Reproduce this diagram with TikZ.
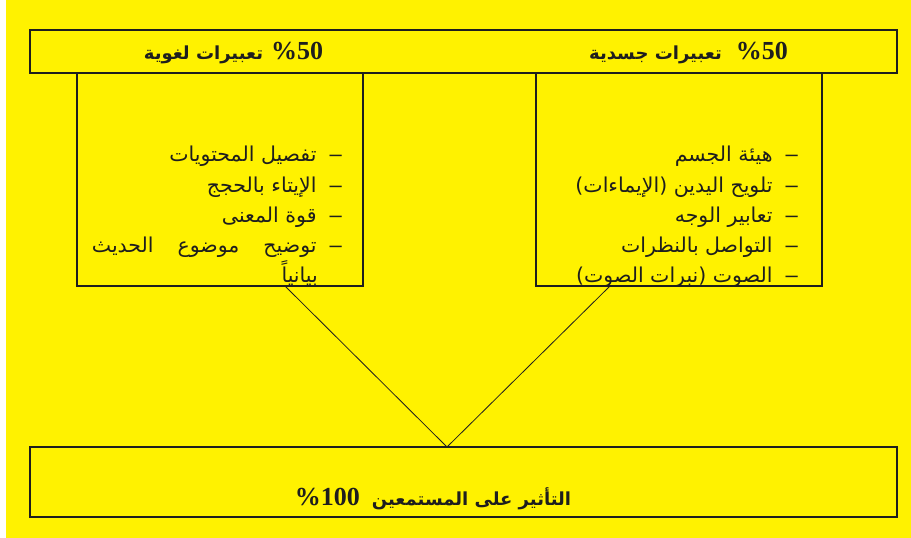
\documentclass[tikz,border=0pt]{standalone}
\usepackage{fontspec}
\setmainfont{Liberation Serif}
\newfontfamily\arabicfont[Script=Arabic]{DejaVu Sans}
\newfontfamily\dashfont{Liberation Sans}
\TeXXeTstate=1
\definecolor{bgyellow}{RGB}{255,242,0}
\definecolor{ink}{RGB}{30,30,30}
\newcommand{\itemdash}{\hbox{\dashfont\fontsize{22}{24}\selectfont –}\hspace{13pt}}
\newcommand{\pctnum}[1]{\hbox{\fontsize{26}{28}\selectfont\rmfamily\bfseries\%#1}}
\begin{document}
\begin{tikzpicture}[x=1pt,y=-1pt,
  box/.style={draw=ink, line width=1.2pt, inner sep=0pt, outer sep=0pt},
  link/.style={draw=ink, line width=0.8pt},
  headtext/.style={text=ink, inner sep=0pt, font=\fontsize{18}{21}\selectfont\bfseries\arabicfont},
  itemtext/.style={text=ink, inner sep=0pt, anchor=base east, font=\fontsize{20.5}{24}\selectfont\arabicfont}]
\useasboundingbox (0,0) rectangle (911,538);
\fill[bgyellow] (6,0) rectangle (911,538);
% boxes
\node[box, minimum width=867pt, minimum height=43pt] (topbox) at (463.5,51.5) {};
\node[box, minimum width=286pt, minimum height=213pt] (leftbox) at (220,179.5) {};
\node[box, minimum width=286pt, minimum height=213pt] (rightbox) at (679,179.5) {};
\node[box, minimum width=867pt, minimum height=70pt] (bottombox) at (463.5,482) {};
% headers
\node[headtext] (lhead) at (233.5,53) {\beginR\pctnum{50}\hspace{8pt}تعبيرات لغوية\endR};
\node[headtext] (rhead) at (688.5,53) {\beginR\pctnum{50}\hspace{14pt}تعبيرات جسدية\endR};
\node[headtext] (bhead) at (433,499) {\beginR التأثير على المستمعين\hspace{12pt}\pctnum{100}\endR};
% left list
\node[itemtext] (l1) at (342,161) {\beginR\itemdash تفصيل المحتويات\endR};
\node[itemtext] (l2) at (342,192) {\beginR\itemdash الإيتاء بالحجج\endR};
\node[itemtext] (l3) at (342,222) {\beginR\itemdash قوة المعنى\endR};
\node[itemtext] (l4) at (342,252) {\beginR\itemdash توضيح\hspace{24pt}موضوع\hspace{24pt}الحديث\endR};
\node[itemtext] (l5) at (318,282) {\beginR بيانياً\endR};
% right list
\node[itemtext] (r1) at (798,161) {\beginR\itemdash هيئة الجسم\endR};
\node[itemtext] (r2) at (798,192) {\beginR\itemdash تلويح اليدين (الإيماءات)\endR};
\node[itemtext] (r3) at (798,222) {\beginR\itemdash تعابير الوجه\endR};
\node[itemtext] (r4) at (798,252) {\beginR\itemdash التواصل بالنظرات\endR};
\node[itemtext] (r5) at (798,282) {\beginR\itemdash الصوت (نبرات الصوت)\endR};
% connectors
\coordinate (lfoot) at (285,286);
\coordinate (rfoot) at (610,286);
\coordinate (apex) at (447,447);
\draw[link] (lfoot) -- (apex) -- (rfoot);
\end{tikzpicture}
\end{document}
